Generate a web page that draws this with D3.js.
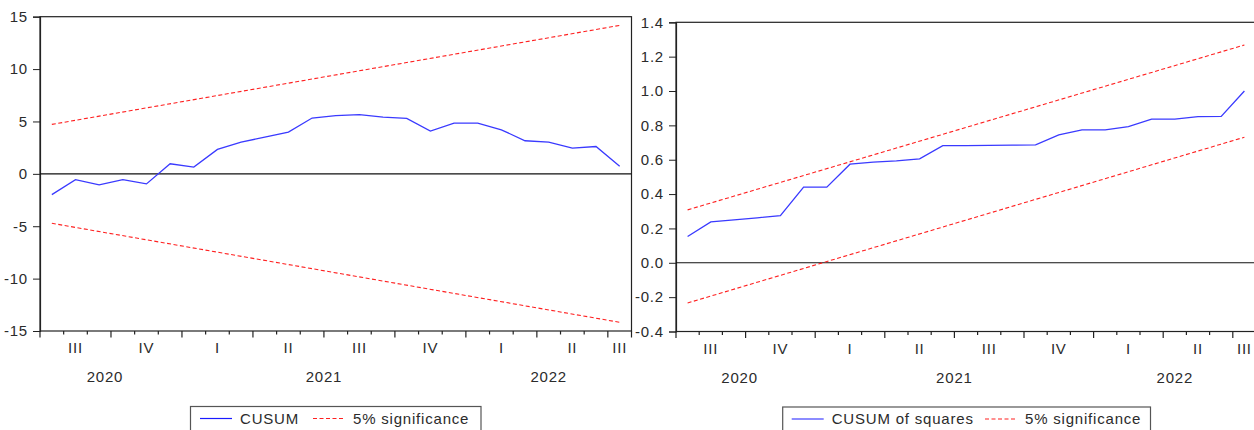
<!DOCTYPE html>
<html>
<head>
<meta charset="utf-8">
<script src="https://cdn.jsdelivr.net/npm/d3@7"></script>
<style>
  html, body { margin: 0; padding: 0; background: #fff; }
  svg text { font-family: "Liberation Sans", Arial, sans-serif; fill: #2b2b2b; letter-spacing: 0.8px; }
</style>
</head>
<body>
<svg id="chart" width="1254" height="430"></svg>
<script>
// Monthly observations, Jul 2020 – Jul 2022
const months = [
  "2020-07","2020-08","2020-09","2020-10","2020-11","2020-12",
  "2021-01","2021-02","2021-03","2021-04","2021-05","2021-06",
  "2021-07","2021-08","2021-09","2021-10","2021-11","2021-12",
  "2022-01","2022-02","2022-03","2022-04","2022-05","2022-06",
  "2022-07"
];

// Recursive-residual CUSUM statistic
const cusum = [
  -1.98, -0.55, -1.05, -0.55, -0.96, 0.96, 0.64, 2.33, 3.03, 3.50,
  3.98, 5.33, 5.55, 5.65, 5.42, 5.30, 4.08, 4.85, 4.85, 4.20,
  3.16, 3.03, 2.45, 2.61, 0.73
];
// 5% bounds for CUSUM (straight lines: first and last observation)
const cusumUpper = [4.72, 14.17];
const cusumLower = [-4.72, -14.17];

// CUSUM of squares statistic
const cusumSq = [
  0.153, 0.238, 0.250, 0.262, 0.275, 0.440, 0.440, 0.574, 0.586, 0.593,
  0.605, 0.682, 0.682, 0.683, 0.685, 0.686, 0.745, 0.774, 0.774, 0.793,
  0.836, 0.836, 0.851, 0.852, 1.000
];
// 5% bounds for CUSUM of squares (first and last observation)
const sqUpper = [0.308, 1.268];
const sqLower = [-0.234, 0.731];

// Axis ticks and labels
const cusumTicks = [-15, -10, -5, 0, 5, 10, 15];
const sqTicks = [-0.4, -0.2, 0.0, 0.2, 0.4, 0.6, 0.8, 1.0, 1.2, 1.4];
const quarterNames = ["I", "II", "III", "IV"];
const years = ["2020", "2021", "2022"];

const svg = d3.select("#chart");

// plain hyphen for negative tick labels
const hyphen = f => d => f(d).replace("\u2212", "-");

function drawPanel(opts) {
  const g = svg.append("g");
  const n = months.length;
  const x = d3.scaleLinear().domain([0, n]).range([opts.left, opts.right]);
  const y = d3.scaleLinear().domain(opts.domain).range([opts.bottom, opts.top]);
  const xc = i => x(i + 0.5);
  const monthNum = months.map(m => +m.slice(5, 7));
  const yearOf = months.map(m => m.slice(0, 4));

  // clip for plot contents
  const clipId = "clip-" + opts.id;
  g.append("clipPath").attr("id", clipId).append("rect")
    .attr("x", opts.left).attr("y", opts.top)
    .attr("width", opts.right - opts.left).attr("height", opts.bottom - opts.top);

  // frame
  g.append("rect")
    .attr("x", opts.left).attr("y", opts.top)
    .attr("width", opts.right - opts.left).attr("height", opts.bottom - opts.top)
    .attr("fill", "none").attr("stroke", "#222").attr("stroke-width", 1.2);

  // y axis
  const yAxis = d3.axisLeft(y).tickValues(opts.ticks).tickSize(7).tickPadding(5)
    .tickFormat(hyphen(opts.fmt));
  const ya = g.append("g").attr("transform", `translate(${opts.left},0)`).call(yAxis);
  ya.select(".domain").attr("stroke", "#222").attr("stroke-width", 1.2);
  ya.selectAll(".tick line").attr("stroke", "#222");
  ya.selectAll(".tick text").attr("font-size", 15).attr("fill", "#2b2b2b")
    .style("font-family", '"Liberation Sans", Arial, sans-serif');

  // x axis: monthly minor ticks, quarterly major ticks
  const bounds = d3.range(n + 1);
  g.append("g").selectAll("line").data(bounds).join("line")
    .attr("x1", d => x(d)).attr("x2", d => x(d))
    .attr("y1", opts.bottom)
    .attr("y2", d => {
      const isQuarter = d === n || (monthNum[d] - 1) % 3 === 0;
      return opts.bottom + (isQuarter ? 6.5 : 3.5);
    })
    .attr("stroke", "#222").attr("stroke-width", 1.2);

  // quarter labels
  const quarters = [];
  months.forEach((m, i) => {
    const q = Math.floor((monthNum[i] - 1) / 3);
    const key = yearOf[i] + "Q" + q;
    const last = quarters[quarters.length - 1];
    if (last && last.key === key) last.end = i + 1;
    else quarters.push({ key, q, start: i, end: i + 1 });
  });
  g.append("g").selectAll("text").data(quarters).join("text")
    .attr("x", d => x((d.start + d.end) / 2))
    .attr("y", opts.bottom + 22)
    .attr("text-anchor", "middle").attr("font-size", 15)
    .text(d => quarterNames[d.q]);

  // year labels
  const yearSpans = years.map(yr => {
    const idx = yearOf.map((v, i) => v === yr ? i : -1).filter(i => i >= 0);
    return { yr, start: idx[0], end: idx[idx.length - 1] + 1 };
  });
  g.append("g").selectAll("text").data(yearSpans).join("text")
    .attr("x", d => x((d.start + d.end) / 2) - (d.start === 0 ? 6 : 0))
    .attr("y", opts.bottom + 51)
    .attr("text-anchor", "middle").attr("font-size", 15)
    .text(d => d.yr);

  const plot = g.append("g").attr("clip-path", `url(#${clipId})`);

  // zero line
  plot.append("line")
    .attr("x1", opts.left).attr("x2", opts.right)
    .attr("y1", y(0)).attr("y2", y(0))
    .attr("stroke", "#111").attr("stroke-width", 1.1);

  // significance bounds
  [opts.upper, opts.lower].forEach(b => {
    plot.append("line")
      .attr("x1", xc(0)).attr("y1", y(b[0]))
      .attr("x2", xc(n - 1)).attr("y2", y(b[1]))
      .attr("stroke", "#ff2020").attr("stroke-width", 1.1)
      .attr("stroke-dasharray", "4,2.5");
  });

  // statistic
  const line = d3.line().x((d, i) => xc(i)).y(d => y(d));
  plot.append("path").datum(opts.values)
    .attr("d", line).attr("fill", "none")
    .attr("stroke", "#3a3aff").attr("stroke-width", 1.3);

  // legend
  const L = opts.legend;
  const lg = g.append("g");
  lg.append("rect").attr("x", L.x0).attr("y", L.y0)
    .attr("width", L.x1 - L.x0).attr("height", 40)
    .attr("fill", "#fff").attr("stroke", "#555").attr("stroke-width", 1.2);
  lg.append("line").attr("x1", L.s0).attr("x2", L.s0 + 32)
    .attr("y1", L.ly).attr("y2", L.ly)
    .attr("stroke", "#1a1aff").attr("stroke-width", 1.2);
  lg.append("text").attr("x", L.s0 + 40).attr("y", L.ly + 5)
    .attr("font-size", 15).text(L.label);
  lg.append("line").attr("x1", L.d0).attr("x2", L.d0 + 32)
    .attr("y1", L.ly).attr("y2", L.ly)
    .attr("stroke", "#ff2020").attr("stroke-width", 1.1)
    .attr("stroke-dasharray", "4,2.5");
  lg.append("text").attr("x", L.d0 + 40).attr("y", L.ly + 5)
    .attr("font-size", 15).text("5% significance");
}

drawPanel({
  id: "cusum", left: 40, right: 631.5, top: 16.7, bottom: 331,
  domain: [-15, 15], ticks: cusumTicks, fmt: d3.format("d"),
  values: cusum, upper: cusumUpper, lower: cusumLower,
  legend: { x0: 190.5, x1: 481, y0: 406.5, ly: 418.5, s0: 200, d0: 313, label: "CUSUM" }
});

drawPanel({
  id: "cusumsq", left: 676, right: 1256, top: 22.3, bottom: 331.5,
  domain: [-0.4, 1.4], ticks: sqTicks, fmt: d3.format(".1f"),
  values: cusumSq, upper: sqUpper, lower: sqLower,
  legend: { x0: 782.7, x1: 1150.5, y0: 407, ly: 419, s0: 791.7, d0: 985, label: "CUSUM of squares" }
});
</script>
</body>
</html>
